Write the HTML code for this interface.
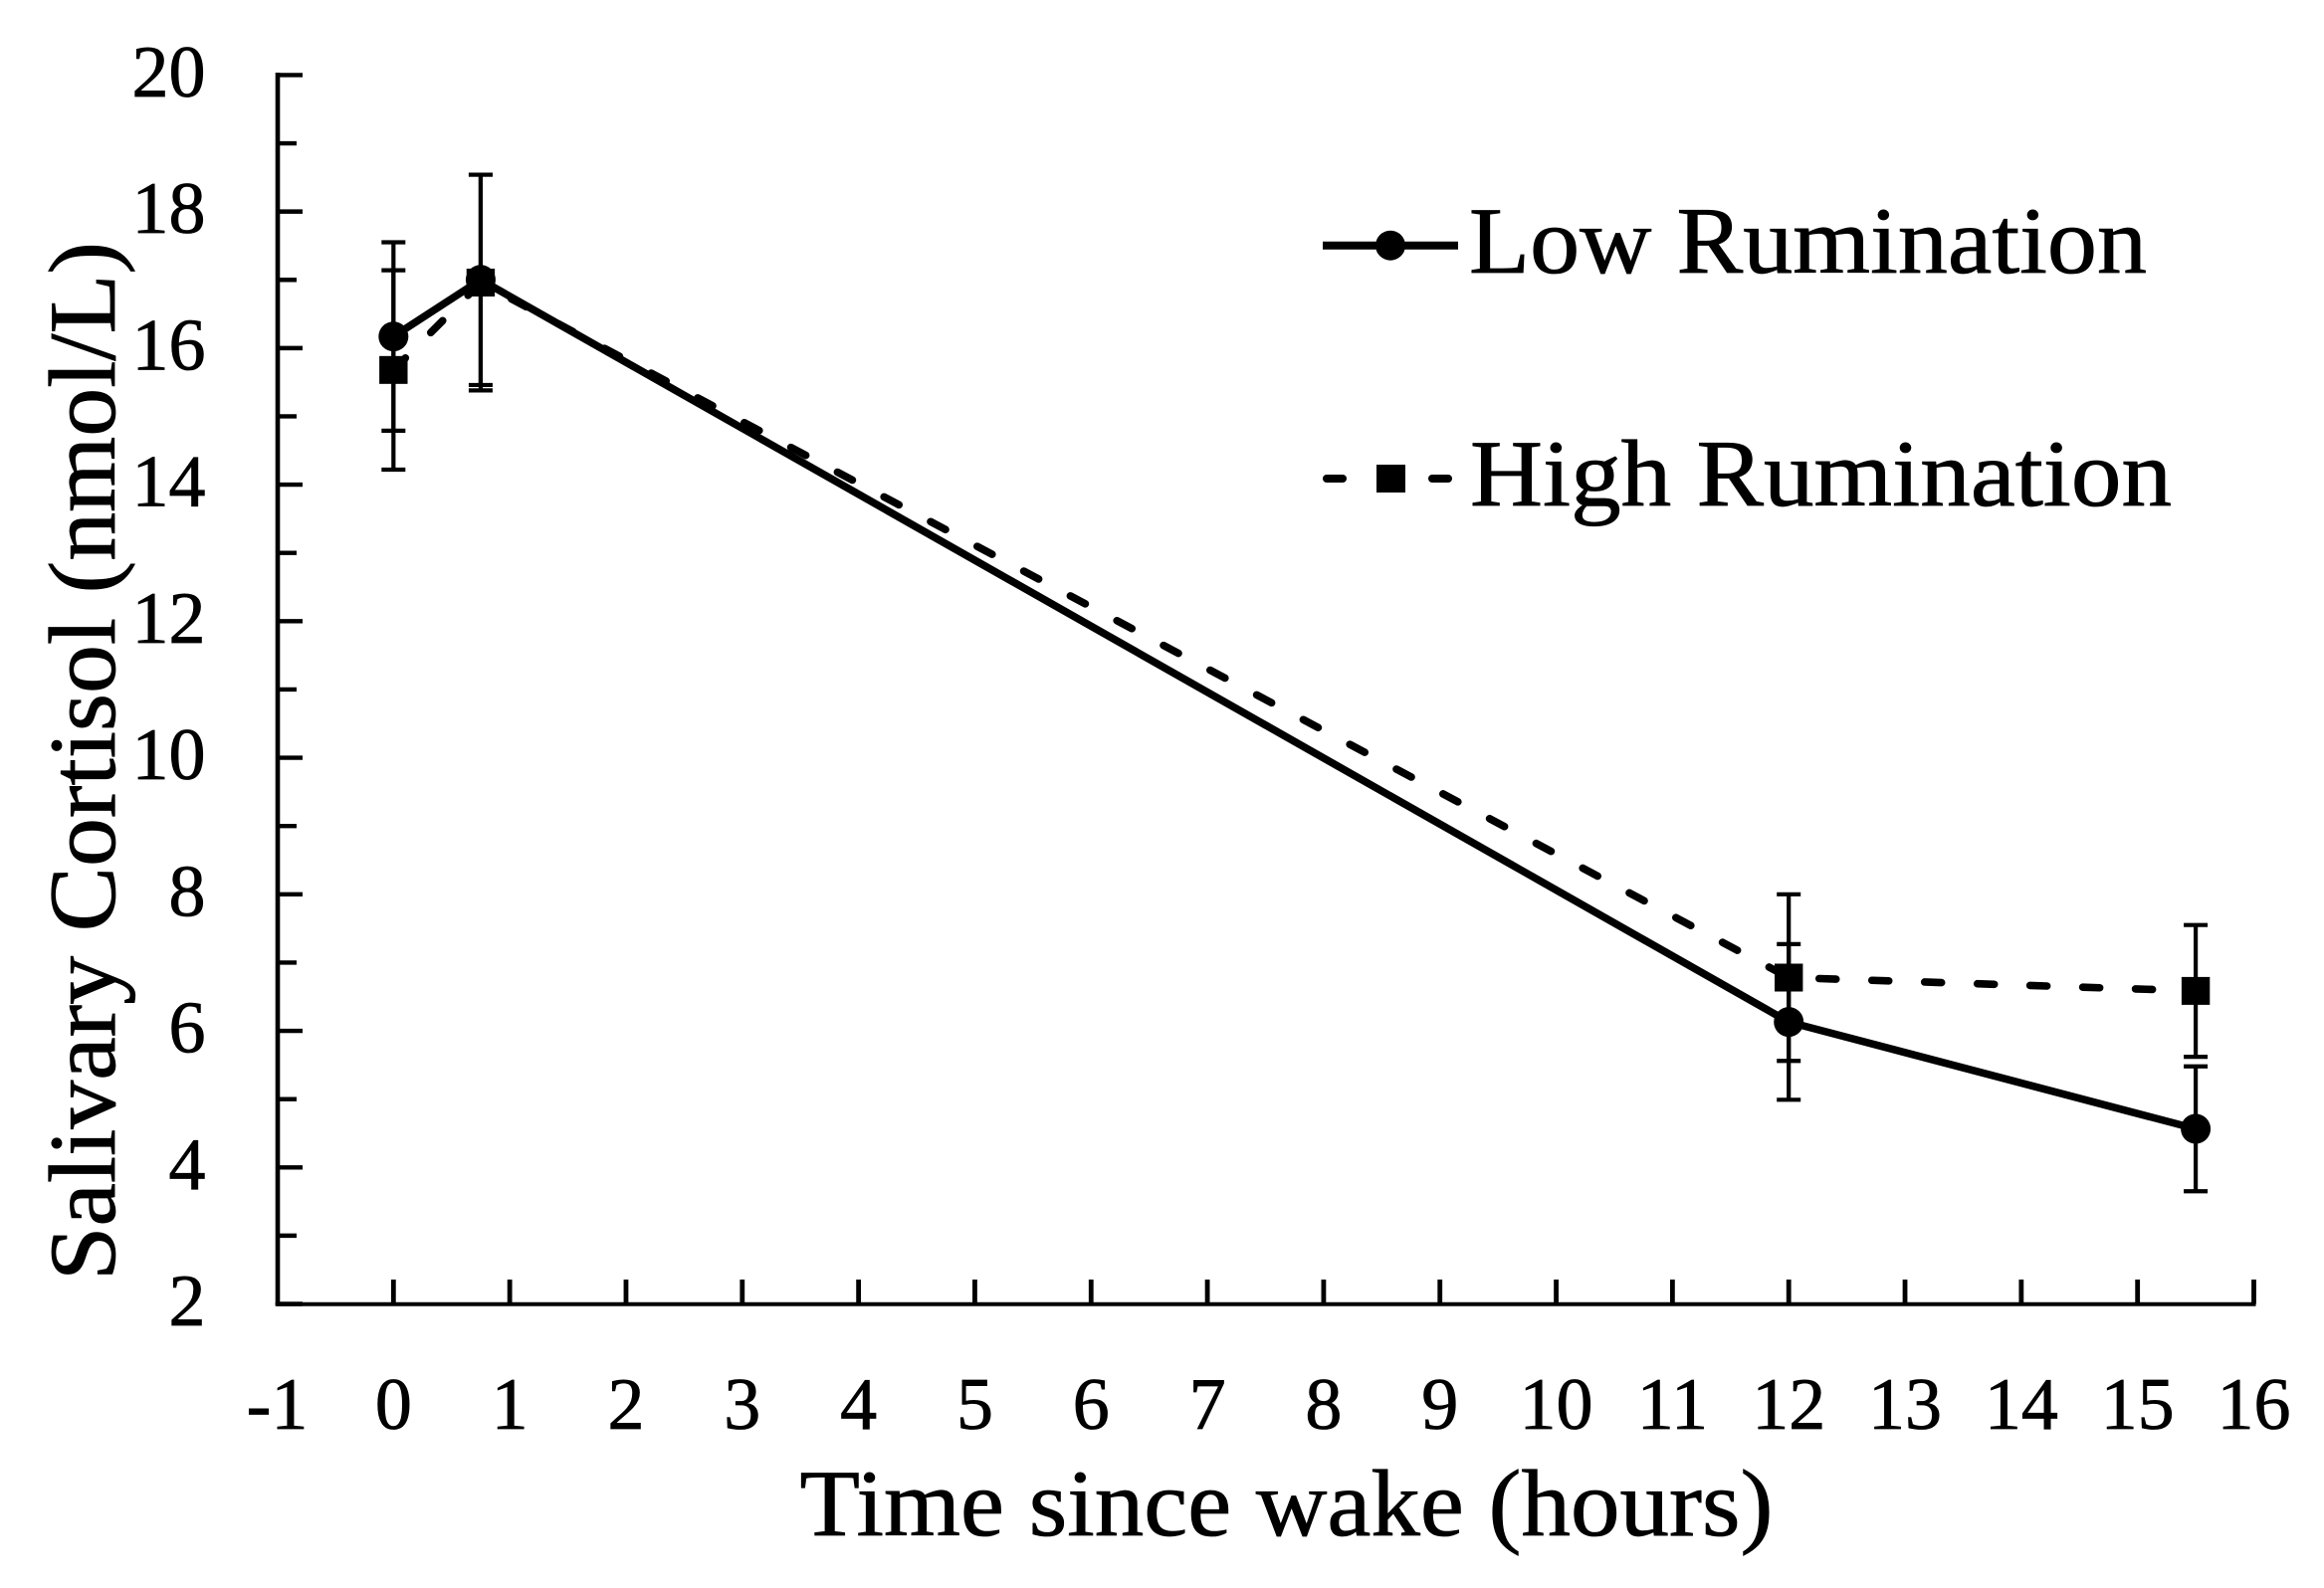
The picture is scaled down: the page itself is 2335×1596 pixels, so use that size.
<!DOCTYPE html>
<html lang="en">
<head>
<meta charset="utf-8">
<title>Salivary Cortisol by Time since wake</title>
<style>
html,body{margin:0;padding:0;background:#fff;}
svg{display:block;}
text{font-family:"Liberation Serif",serif;fill:#000;stroke:#000;stroke-width:0.8px;}
</style>
</head>
<body>
<svg id="chart" xmlns="http://www.w3.org/2000/svg" width="2335" height="1596" viewBox="0 0 2335 1596">
<rect x="0" y="0" width="2335" height="1596" fill="#fff"/>
<text transform="translate(115 1287) rotate(-90)" font-size="95" textLength="1044" lengthAdjust="spacingAndGlyphs">Salivary Cortisol (nmol/L)</text>
<text x="803.5" y="1543" font-size="95" textLength="978" lengthAdjust="spacingAndGlyphs">Time since wake (hours)</text>
<g>
<g>
<line x1="1329" y1="246.7" x2="1465" y2="246.7" stroke="#000" stroke-width="8"/>
<circle cx="1397" cy="246.7" r="15" fill="#000"/>
<text x="1476" y="274" font-size="95" textLength="681" lengthAdjust="spacingAndGlyphs">Low Rumination</text>
</g>
<g>
<line x1="1333" y1="481" x2="1349" y2="481" stroke="#000" stroke-width="8" stroke-linecap="round"/>
<rect x="1383" y="467" width="29" height="28" fill="#000"/>
<line x1="1439" y1="481" x2="1455" y2="481" stroke="#000" stroke-width="8" stroke-linecap="round"/>
<text x="1477" y="508" font-size="95" textLength="705" lengthAdjust="spacingAndGlyphs">High Rumination</text>
</g>
</g>
</svg>
<script>
const hours = [0, 0.75, 12, 15.5];
const lowValues = [16.17, 17.0, 6.13, 4.565];
const lowErrors = [1.38, 1.54, 1.14, 0.915];
const highValues = [15.68, 16.96, 6.78, 6.585];
const highErrors = [1.46, 1.58, 1.22, 0.965];
const xTickLabels = [-1, 0, 1, 2, 3, 4, 5, 6, 7, 8, 9, 10, 11, 12, 13, 14, 15, 16];
const yTickLabels = [2, 4, 6, 8, 10, 12, 14, 16, 18, 20];
const yMinorTicks = [3, 5, 7, 9, 11, 13, 15, 17, 19];

const svg = document.getElementById('chart');
const NS = 'http://www.w3.org/2000/svg';
function xScale(v) { return 278.5 + (v + 1) * (2264.5 - 278.5) / 17; }
function yScale(v) { return 1310.5 - (v - 2) * (1310.5 - 75.4) / 18; }
function make(tag, parent, attrs) {
  const el = document.createElementNS(NS, tag);
  for (const k in attrs) el.setAttribute(k, attrs[k]);
  parent.appendChild(el);
  return el;
}

const axes = make('g', svg, {});



const yAxis = make('line', axes, { x1: 279, y1: 73, x2: 279, y2: 1312.5, stroke: '#000', 'stroke-width': 4.6 });



const xAxis = make('line', axes, { x1: 276.7, y1: 1310.7, x2: 2266.5, y2: 1310.7, stroke: '#000', 'stroke-width': 4 });



yTickLabels.forEach(function (v) {
  const t = make('line', axes, { x1: 278, y1: yScale(v), x2: 304, y2: yScale(v), stroke: '#000', 'stroke-width': 4.4 });
  
  
  const l = make('text', axes, { x: 206.5, y: yScale(v) + 21.5, 'font-size': 74, 'text-anchor': 'end' });
  
  
  l.textContent = String(v);
});

yMinorTicks.forEach(function (v) {
  const t = make('line', axes, { x1: 278, y1: yScale(v), x2: 298, y2: yScale(v), stroke: '#000', 'stroke-width': 4.4 });
  
  
});

xTickLabels.forEach(function (v) {
  if (v > -1) {
    const t = make('line', axes, { x1: xScale(v), y1: 1310.5, x2: xScale(v), y2: 1286, stroke: '#000', 'stroke-width': 4.8 });
    
    
  }
  const l = make('text', axes, { x: xScale(v), y: 1436, 'font-size': 74, 'text-anchor': 'middle' });
  
  
  l.textContent = String(v);
});

function drawErrors(values, errors, parent, name) {
  values.forEach(function (v, i) {
    const x = xScale(hours[i]);
    const top = yScale(v + errors[i]);
    const bottom = yScale(v - errors[i]);
    const stem = make('line', parent, { x1: x, y1: top, x2: x, y2: bottom, stroke: '#000', 'stroke-width': 4.2 });
    
    
    const capTop = make('line', parent, { x1: x - 12, y1: top, x2: x + 12, y2: top, stroke: '#000', 'stroke-width': 4.2 });
    
    
    const capBottom = make('line', parent, { x1: x - 12, y1: bottom, x2: x + 12, y2: bottom, stroke: '#000', 'stroke-width': 4.2 });
    
    
  });
}
function pointsOf(values) {
  return values.map(function (v, i) { return xScale(hours[i]) + ',' + yScale(v); }).join(' ');
}

const highGroup = make('g', svg, {});


const lowGroup = make('g', svg, {});



drawErrors(highValues, highErrors, highGroup, 'high');
drawErrors(lowValues, lowErrors, lowGroup, 'low');

const highLine = make('polyline', highGroup, { points: pointsOf(highValues), fill: 'none', stroke: '#000', 'stroke-width': 7.6, 'stroke-dasharray': '17 36', 'stroke-linecap': 'round', 'stroke-linejoin': 'round' });



const lowLine = make('polyline', lowGroup, { points: pointsOf(lowValues), fill: 'none', stroke: '#000', 'stroke-width': 7.6, 'stroke-linejoin': 'round' });



highValues.forEach(function (v, i) {
  const m = make('rect', highGroup, { x: xScale(hours[i]) - 14.2, y: yScale(v) - 14, width: 28.4, height: 28, fill: '#000' });
  
  
});
lowValues.forEach(function (v, i) {
  const m = make('circle', lowGroup, { cx: xScale(hours[i]), cy: yScale(v), r: 15, fill: '#000' });
  
  
});
</script>
</body>
</html>
